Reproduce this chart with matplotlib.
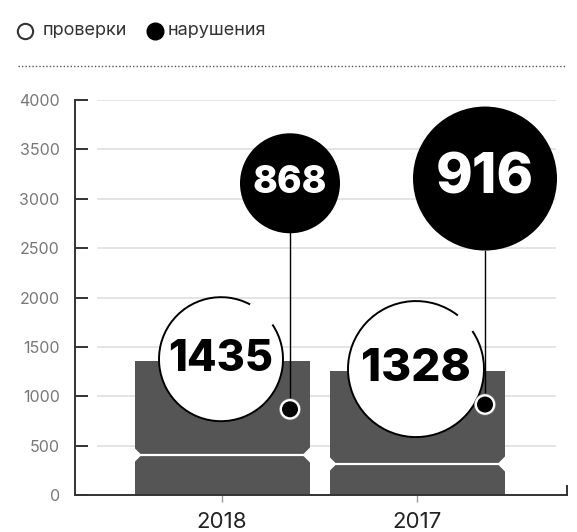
import matplotlib
matplotlib.use("Agg")
import matplotlib.pyplot as plt
import matplotlib.transforms as mtransforms
from matplotlib.patches import Circle, Arc, Polygon
from matplotlib.lines import Line2D

# data
years = ["2018", "2017"]
checks = [1435, 1328]        # проверки (white circles)
violations = [868, 916]      # нарушения (black dots / circles)
bar_heights = [1355, 1255]   # bar tops as drawn
split_levels = [405, 314]    # white split line inside each bar
yticks = [0, 500, 1000, 1500, 2000, 2500, 3000, 3500, 4000]

# circle sizes in pixels (decorative, not scaled to values)
white_r = [62, 68]
black_r = [50, 72]

plt.rcParams['font.family'] = ['Inter', 'DejaVu Sans']

DPI = 100
W, H = 577, 532
fig = plt.figure(figsize=(W / DPI, H / DPI), dpi=DPI)
fig.patch.set_facecolor("white")

# axes placed so 0..4000 spans pixel rows 495..100
ax = fig.add_axes([75 / W, 1 - 495 / H, 492 / W, 395 / H])
PX = 195.0  # pixels between the two bars
xs = [0, 1]
ax.set_xlim(-147 / PX, 345 / PX)
ax.set_ylim(0, 4000)


def at(x, y):
    # inches-based transform anchored at a data point
    return fig.dpi_scale_trans + mtransforms.ScaledTranslation(x, y, ax.transData)


# grid
for t in yticks[1:]:
    ax.axhline(t, xmin=23 / 492, xmax=480 / 492, color="#e2e2e2", lw=1.3, zorder=0)

# bars with a split near the bottom
bar_w = 175 / PX
ax.bar(xs, bar_heights, width=bar_w, color="#555555", zorder=1)
notch_d = 7 / PX
notch_h = 9 * 4000 / 395
for x, s in zip(xs, split_levels):
    x0, x1 = x - bar_w / 2, x + bar_w / 2
    ax.add_patch(Polygon([(x0 - 0.01, s - notch_h), (x0 + notch_d, s), (x0 - 0.01, s + notch_h)],
                         closed=True, fc="white", ec="none", zorder=2))
    ax.add_patch(Polygon([(x1 + 0.01, s - notch_h), (x1 - notch_d, s), (x1 + 0.01, s + notch_h)],
                         closed=True, fc="white", ec="none", zorder=2))
    ax.plot([x0, x1], [s, s], color="white", lw=1.6, zorder=2, solid_capstyle="butt")

# white circles (проверки) with a small gap in the outline
gaps = [(34, 62), (34, 52)]
for x, top, val, r, g, fs in zip(xs, bar_heights, checks, white_r, gaps, [31, 33]):
    tr = at(x, top)
    cx, cy = -1 / DPI, 2 / DPI
    ax.add_patch(Circle((cx, cy), r / DPI, transform=tr, fc="white", ec="none", zorder=3))
    ax.add_patch(Arc((cx, cy), 2 * r / DPI, 2 * r / DPI, theta1=g[1], theta2=g[0] + 360,
                     transform=tr, color="black", lw=1.4, zorder=4))
    ax.annotate(str(val), (x, top), xytext=(-1 * 0.72, 2 * 0.72), textcoords="offset points",
                ha="center", va="center", fontsize=fs, fontweight="heavy", color="black", zorder=5)

# violations: dot on the scale, stem and big black circle
for x, val, r, fs in zip(xs, violations, black_r, [27, 40]):
    tr = at(x, val)
    dx = 68 / DPI
    up = 226 / DPI
    ax.add_line(Line2D([dx, dx], [0, up - r / DPI], transform=tr, color="black", lw=1.0, zorder=5))
    ax.add_patch(Circle((dx, up), r / DPI, transform=tr, fc="black", ec="none", zorder=6))
    ax.annotate(str(val), (x, val), xytext=(68 * 0.72, 226 * 0.72), textcoords="offset points",
                ha="center", va="center", fontsize=fs, fontweight="heavy", color="white", zorder=7)
    ax.add_patch(Circle((dx, 0), 11 / DPI, transform=tr, fc="#777777", ec="none", zorder=6))
    ax.add_patch(Circle((dx, 0), 10.3 / DPI, transform=tr, fc="white", ec="none", zorder=6))
    ax.add_patch(Circle((dx, 0), 8 / DPI, transform=tr, fc="black", ec="none", zorder=7))

# axes styling
for side in ["top", "right"]:
    ax.spines[side].set_visible(False)
ax.spines["left"].set_color("#333333")
ax.spines["bottom"].set_color("#333333")
ax.spines["left"].set_linewidth(1.4)
ax.spines["bottom"].set_linewidth(1.4)
ax.set_yticks(yticks)
ax.set_yticklabels([str(t) for t in yticks])
ax.tick_params(axis="y", direction="in", length=9.5, width=1.4, color="#333333",
               pad=11, labelsize=11.5, labelcolor="#777777")
ax.set_xticks(xs)
ax.set_xticklabels(years)
ax.tick_params(axis="x", direction="out", length=5, width=1, color="#999999",
               pad=7, labelsize=16, labelcolor="#222222")
ax.plot([1, 1], [0, 9 / 395], transform=ax.transAxes, color="#333333", lw=1.4, clip_on=False)

# legend and dotted rule on top
fig.add_artist(Line2D([25 / W], [1 - 31 / H], marker="o", ms=11, mfc="white", mec="#333333", mew=1.5))
fig.text(43 / W, 1 - 31 / H, "проверки", ha="left", va="center", fontsize=13, color="#333333")
fig.add_artist(Line2D([155 / W], [1 - 31 / H], marker="o", ms=12, mfc="black", mec="black"))
fig.text(168 / W, 1 - 31 / H, "нарушения", ha="left", va="center", fontsize=13, color="#333333")
fig.add_artist(Line2D([18 / W, 566 / W], [1 - 66 / H, 1 - 66 / H], color="#555555",
                      lw=1.0, linestyle=(0, (1, 1.5))))

fig.savefig("out.png", dpi=DPI)
